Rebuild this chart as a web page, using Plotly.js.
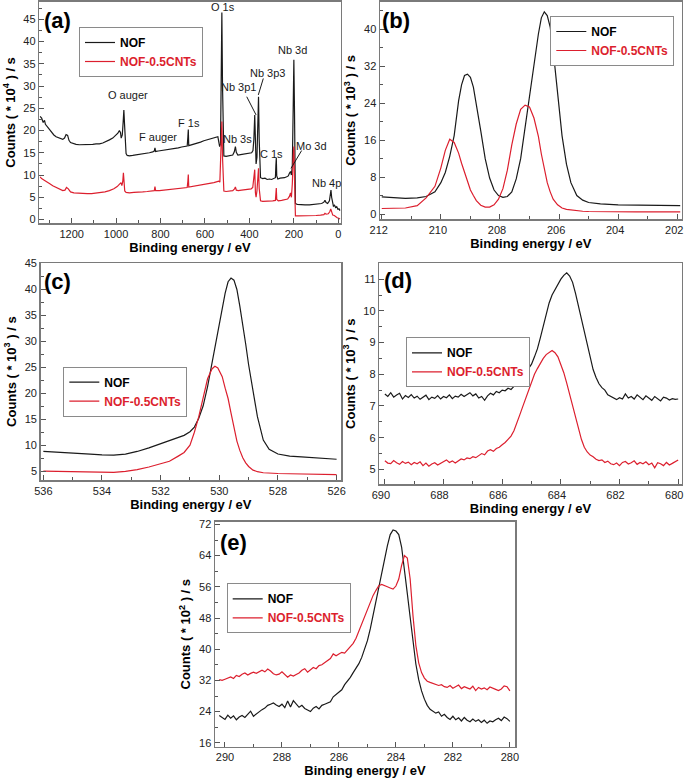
<!DOCTYPE html>
<html>
<head>
<meta charset="utf-8">
<script src="https://cdn.plot.ly/plotly-3.0.1.min.js"></script>
<style>html,body{margin:0;padding:0;background:#fff;}#chart{width:685px;height:778px;}</style>
</head>
<body>
<div id="chart"></div>
<script>
// ---------- Panel (a): survey spectra (counts x10^4 /s) ----------
const aNofX = [1342,1335,1328,1322,1318,1310,1300,1290,1280,1270,
  1260,1250,1240,1232,1225,1218,1212,1205,1195,1180,
  1165,1150,1135,1120,1105,1090,1075,1060,1045,1030,
  1015,1000,992,985,980,977,972,968,965,962,
  959,955,950,940,925,910,895,880,865,850,
  835,828,825,822,810,795,780,765,750,735,
  720,705,690,680,677,675,673,665,650,635,
  620,605,590,575,560,548,542,538,534,530,
  527,524,521,518,515,505,495,485,475,468,
  463,459,452,440,425,410,398,390,384,380,
  376,373,370,366,362,359,356,353,350,340,
  330,320,310,300,290,283,281,279,277,272,
  262,252,242,232,225,220,215,211,207,203,
  200,197,195,193,185,170,150,130,110,90,
  75,65,60,55,48,40,36,33,30,27,
  22,17,12,7,2,-3,-8];
const aNofY = [23.2,22.8,21.8,22.3,21.4,20.9,20.2,19.6,19.0,18.6,
  18.4,18.2,18.0,18.3,19.1,18.9,17.8,17.3,17.1,16.9,
  16.8,16.8,16.9,16.8,16.9,17.0,17.0,17.2,17.5,17.9,
  18.3,18.9,19.4,20.0,19.5,18.3,19.0,22.0,24.6,21.5,
  17.0,14.8,14.4,14.3,14.4,14.5,14.6,14.8,14.9,15.0,
  15.2,15.4,16.1,15.3,15.4,15.5,15.6,15.8,15.9,16.0,
  16.1,16.3,16.4,16.5,18.5,20.2,16.6,16.7,16.9,17.2,
  17.4,17.7,17.9,18.1,18.3,18.5,18.6,17.5,16.4,17.0,
  30.0,46.5,30.0,16.0,14.3,14.2,14.3,14.4,14.5,15.2,
  16.4,15.1,14.5,14.6,14.7,14.7,14.8,15.0,15.5,18.0,
  23.5,16.0,12.5,14.0,20.0,27.6,18.0,10.5,9.4,9.2,
  9.3,9.0,9.1,9.0,9.2,9.4,12.0,13.8,9.8,9.1,
  9.3,9.3,9.4,9.6,9.8,10.4,10.8,10.0,12.0,25.0,
  35.9,24.0,8.0,3.6,3.4,3.3,3.3,3.3,3.4,3.5,
  3.6,3.9,4.3,3.8,3.6,4.2,5.4,6.6,5.0,3.8,
  3.0,3.2,2.7,2.9,2.3,2.4,2.0];
const aCntX = [1342,1335,1325,1315,1300,1285,1270,1255,1240,1230,
  1223,1215,1205,1190,1170,1150,1130,1110,1090,1070,
  1050,1030,1010,995,985,978,974,970,967,964,
  961,955,940,920,900,880,860,840,828,825,
  822,805,785,765,745,725,705,690,680,677,
  675,673,660,640,620,600,580,560,545,538,
  533,528,524,521,518,515,505,490,475,467,
  463,459,450,435,420,405,392,385,380,376,
  373,370,366,362,359,356,353,350,340,325,
  310,295,283,281,279,277,270,255,240,228,
  220,215,211,207,203,200,197,195,193,180,
  160,140,120,100,80,65,60,55,45,38,
  34,30,25,18,12,5,-2,-8];
const aCntY = [9.6,9.2,8.9,8.5,8.1,7.6,7.2,6.8,6.5,6.6,
  7.2,6.9,6.2,6.0,5.9,5.8,5.8,5.8,5.9,6.0,
  6.2,6.5,6.9,7.4,8.0,8.3,7.6,8.5,10.5,8.8,
  6.4,6.1,6.0,6.1,6.1,6.2,6.3,6.4,6.5,7.4,
  6.5,6.5,6.6,6.7,6.8,6.9,7.0,7.1,7.2,8.6,
  10.1,7.3,7.4,7.6,7.8,7.9,8.1,8.3,8.5,8.6,
  8.4,14.0,22.0,14.0,7.0,6.4,6.3,6.4,6.5,6.9,
  7.3,6.6,6.5,6.6,6.7,6.8,6.9,7.2,9.0,11.2,
  6.0,5.0,6.5,9.0,11.5,7.0,4.5,4.2,4.1,4.1,
  4.1,4.2,4.3,6.0,7.1,4.5,4.2,4.3,4.4,4.6,
  5.2,6.0,5.0,8.0,14.0,16.4,9.0,1.2,0.8,0.8,
  0.8,0.8,0.8,0.9,1.0,1.1,1.4,1.2,1.3,1.8,
  2.4,1.8,1.0,0.9,0.6,0.4,0.3,0.1];
const aPeakNames = ['O auger','F auger','F 1s','O 1s','Nb 3s','Nb 3p1','Nb 3p3','Nb 3d','C 1s','Mo 3d','Nb 4p'];
const aPeakTextX = [945,810,670,520,454,450,318,205,300,120,55];
const aPeakTextY = [28.0,18.6,21.75,47.8,18.0,29.7,33.0,38.1,14.7,16.5,8.3];

// ---------- Panel (b): Nb 3d (counts x10^3 /s) ----------
const bEnergy = [212.0,211.6,211.2,210.8,210.5,210.2,210.0,209.85,209.7,209.55,
  209.4,209.3,209.2,209.1,209.0,208.9,208.8,208.65,208.5,208.35,
  208.2,208.05,207.9,207.75,207.6,207.45,207.3,207.15,207.0,206.85,
  206.7,206.6,206.5,206.4,206.3,206.2,206.05,205.9,205.75,205.6,
  205.4,205.2,205.0,204.6,204.0,203.4,202.8,202.2,201.9];
const bNOF = [3.7,3.5,3.4,3.5,3.8,4.8,6.8,9.0,12.5,17.0,
  24.5,28.0,30.0,30.3,29.6,27.5,24.0,18.0,12.0,7.8,
  5.2,4.0,3.6,3.8,4.8,7.6,12.0,18.8,25.5,32.5,
  39.0,42.5,43.8,43.0,40.5,35.5,25.5,17.0,10.8,6.8,
  4.0,3.0,2.5,2.2,2.0,1.9,1.85,1.8,1.8];
const bCNT = [1.2,1.2,1.3,1.8,3.5,6.0,10.0,13.8,16.2,15.5,
  13.2,11.0,9.0,6.8,5.2,4.0,2.9,1.9,1.5,1.5,
  2.0,3.2,5.5,9.5,15.0,19.5,22.7,23.6,23.2,20.8,
  16.8,13.0,10.0,6.8,4.8,3.2,2.0,1.3,1.0,0.85,
  0.7,0.6,0.55,0.5,0.5,0.45,0.45,0.45,0.45];

// ---------- Panel (c): O 1s (counts x10^3 /s) ----------
const cEnergy = [536.0,535.6,535.2,534.8,534.4,534.0,533.6,533.2,532.8,532.4,
  532.0,531.7,531.4,531.2,531.0,530.85,530.7,530.55,530.4,530.25,
  530.15,530.05,529.9,529.8,529.7,529.6,529.5,529.4,529.3,529.2,
  529.1,529.0,528.85,528.7,528.5,528.3,528.0,527.6,527.2,526.8,
  526.4,526.0];
const cNOF = [8.8,8.7,8.55,8.4,8.3,8.15,8.1,8.3,8.8,9.5,
  10.3,10.8,11.4,11.9,12.6,13.5,15.2,17.6,21.3,25.8,
  28.6,31.5,35.8,39.3,41.5,42.2,41.8,40.0,36.8,33.5,
  29.5,25.5,20.5,15.5,11.0,9.2,8.3,7.9,7.75,7.6,
  7.5,7.3];
const cCNT = [5.0,4.95,4.9,4.85,4.75,4.7,4.75,4.95,5.3,5.8,
  6.4,6.9,7.9,8.6,10.0,12.5,15.5,19.4,22.8,24.7,
  25.2,24.9,23.2,21.0,19.0,16.2,13.3,10.8,9.0,7.6,
  6.6,5.9,5.2,4.9,4.7,4.6,4.55,4.5,4.45,4.45,
  4.4,4.35];

// ---------- Panel (d): F 1s (counts x10^3 /s) ----------
const dEnergy = [690.0,689.9,689.8,689.7,689.6,689.5,689.4,689.3,689.2,689.1,
  689.0,688.9,688.8,688.7,688.6,688.5,688.4,688.3,688.2,688.1,
  688.0,687.9,687.8,687.7,687.6,687.5,687.4,687.3,687.2,687.1,
  687.0,686.9,686.8,686.7,686.6,686.5,686.4,686.3,686.2,686.1,
  686.0,685.9,685.8,685.7,685.6,685.5,685.4,685.3,685.2,685.1,
  685.0,684.9,684.8,684.7,684.6,684.5,684.4,684.3,684.2,684.1,
  684.0,683.9,683.8,683.7,683.6,683.5,683.4,683.3,683.2,683.1,
  683.0,682.9,682.8,682.7,682.6,682.5,682.4,682.3,682.2,682.1,
  682.0,681.9,681.8,681.7,681.6,681.5,681.4,681.3,681.2,681.1,
  681.0,680.9,680.8,680.7,680.6,680.5,680.4,680.3,680.2,680.1,
  680.0];
const dNOF = [7.38,7.30,7.42,7.28,7.35,7.40,7.22,7.33,7.27,7.36,
  7.25,7.31,7.21,7.29,7.34,7.20,7.28,7.24,7.33,7.22,
  7.30,7.26,7.35,7.23,7.31,7.28,7.37,7.30,7.36,7.42,
  7.32,7.38,7.25,7.30,7.18,7.32,7.40,7.35,7.46,7.42,
  7.50,7.48,7.56,7.52,7.62,7.70,7.82,7.90,8.05,8.20,
  8.32,8.55,8.80,9.15,9.55,9.95,10.25,10.50,10.68,10.85,
  11.00,11.12,11.20,11.10,10.90,10.55,10.15,9.70,9.25,8.85,
  8.50,8.15,7.90,7.70,7.58,7.50,7.35,7.30,7.24,7.20,
  7.26,7.22,7.38,7.25,7.30,7.22,7.35,7.27,7.20,7.32,
  7.24,7.18,7.30,7.22,7.16,7.28,7.25,7.19,7.23,7.21,
  7.22];
const dCNT = [5.27,5.20,5.18,5.28,5.21,5.16,5.25,5.19,5.23,5.15,
  5.22,5.18,5.24,5.12,5.20,5.10,5.17,5.21,5.14,5.19,
  5.25,5.30,5.22,5.27,5.20,5.28,5.33,5.30,5.36,5.34,
  5.40,5.37,5.45,5.50,5.46,5.58,5.62,5.57,5.66,5.70,
  5.78,5.85,5.95,6.05,6.22,6.45,6.72,6.98,7.25,7.50,
  7.78,8.00,8.18,8.35,8.50,8.62,8.70,8.75,8.68,8.55,
  8.30,8.05,7.72,7.35,6.98,6.62,6.25,5.95,5.70,5.55,
  5.45,5.40,5.32,5.28,5.30,5.22,5.26,5.18,5.15,5.20,
  5.12,5.22,5.25,5.17,5.21,5.27,5.16,5.22,5.18,5.24,
  5.15,5.20,5.05,5.21,5.18,5.12,5.22,5.14,5.19,5.24,
  5.30];

// ---------- Panel (e): C 1s (counts x10^2 /s) ----------
const eEnergy = [290.2,290.1,290.0,289.9,289.8,289.7,289.6,289.5,289.4,289.3,
  289.2,289.1,289.0,288.9,288.8,288.7,288.6,288.5,288.4,288.3,
  288.2,288.1,288.0,287.9,287.8,287.7,287.6,287.5,287.4,287.3,
  287.2,287.1,287.0,286.9,286.8,286.7,286.6,286.5,286.4,286.3,
  286.2,286.1,286.0,285.9,285.8,285.7,285.6,285.5,285.4,285.3,
  285.2,285.1,285.0,284.9,284.8,284.7,284.6,284.5,284.4,284.3,
  284.2,284.1,284.0,283.9,283.8,283.7,283.6,283.5,283.4,283.3,
  283.2,283.1,283.0,282.9,282.8,282.7,282.6,282.5,282.4,282.3,
  282.2,282.1,282.0,281.9,281.8,281.7,281.6,281.5,281.4,281.3,
  281.2,281.1,281.0,280.9,280.8,280.7,280.6,280.5,280.4,280.3,
  280.2,280.1,280.0];
const eNOF = [23.0,22.4,22.0,23.1,22.3,22.9,21.9,22.6,23.0,22.5,
  23.2,24.1,22.8,23.4,24.0,24.5,24.9,25.6,25.9,26.2,
  25.7,25.3,25.9,25.0,26.7,25.2,26.8,25.9,25.1,25.6,
  24.8,24.4,24.0,24.9,25.3,24.7,25.6,25.9,26.3,26.5,
  27.8,28.4,28.9,29.6,30.9,31.8,32.8,34.0,35.0,36.3,
  37.9,39.8,42.2,45.2,48.8,52.0,55.2,58.9,62.8,66.5,
  69.4,70.6,70.3,69.4,66.2,60.8,54.3,48.2,41.5,36.2,
  32.2,29.3,27.2,25.6,24.6,24.1,23.6,23.9,22.8,23.3,
  22.5,22.0,22.8,21.9,22.4,21.6,22.5,21.8,21.4,22.1,
  21.5,21.9,21.2,21.8,21.0,21.6,21.4,21.9,22.3,21.7,
  22.6,22.2,21.5];
const eCNT = [32.2,32.0,32.3,32.6,32.9,32.5,33.3,33.0,33.6,33.9,
  33.4,33.8,34.1,33.8,34.3,34.6,34.2,34.9,34.4,33.7,
  33.4,33.6,34.2,33.5,32.8,33.4,33.1,33.5,33.9,34.6,
  35.0,34.1,34.6,35.3,35.0,35.8,36.0,36.6,37.0,37.6,
  38.8,38.3,38.8,39.2,39.0,39.9,40.6,41.5,42.8,44.6,
  46.5,48.3,50.3,52.2,53.8,55.1,56.3,56.6,56.2,56.0,
  55.7,55.4,56.2,58.0,61.5,64.0,63.4,58.0,48.5,41.0,
  36.5,34.0,32.6,31.8,31.5,31.2,31.0,30.7,30.9,30.4,
  30.2,30.7,30.0,30.3,30.8,29.9,30.4,30.1,29.8,30.5,
  29.4,30.2,29.8,30.1,29.6,30.3,29.9,29.7,29.4,29.8,
  30.6,30.4,29.3];

const seriesNames = ['NOF', 'NOF-0.5CNTs'];
const panelLetters = ['(a)', '(b)', '(c)', '(d)', '(e)'];
const yTitles = ['Counts ( * 10<sup>4</sup> ) / s', 'Counts ( * 10<sup>3</sup> ) / s',
  'Counts ( * 10<sup>3</sup> ) / s', 'Counts ( * 10<sup>3</sup> ) / s', 'Counts ( * 10<sup>2</sup> ) / s'];

// ---------- styling ----------
const FONT = 'Arial, "Liberation Sans", sans-serif';
const BLACK = '#1a1a1a';
const RED = '#dc1f2e';
const W = 685, H = 778;
const px2x = p => p / W;
const px2y = p => 1 - p / H;

// plot boxes in pixels [left, right, top, bottom]
const boxes = [
  [39.3, 340.7, 1.5, 223.3],
  [380.0, 681.7, 1.7, 219.0],
  [40.7, 341.0, 263.3, 480.0],
  [379.3, 681.7, 263.3, 484.0],
  [215.0, 515.0, 521.7, 746.7]
];
const xRanges = [[1345.5, -10.8], [212.06, 201.85], [536.09, 525.85], [690.19, 679.88], [290.35, 279.82]];
const yRanges = [[-0.85, 49.0], [-1.08, 46.0], [3.3, 45.05], [4.54, 11.5], [15.0, 72.7]];
const xDticks = [200, 2, 2, 2, 2];
const yDticks = [5, 8, 5, 1, 8];
const xLabelShift = [0, 3, 0, 4, 0];
const legendPos = [[79, 27, 'left'], [674.3, 16, 'right'], [63.3, 366.7, 'left'], [406, 337.3, 'left'], [226.7, 583.3, 'left']];
const letterPos = [[57, 20], [396, 20], [57, 282], [398, 280], [233, 542]];

function axisBase(dt) {
  return {
    dtick: dt, tick0: 0, ticks: 'inside', ticklen: 5, tickwidth: 1, tickcolor: '#555',
    minor: {dtick: dt / 2, ticks: 'inside', ticklen: 3, tickwidth: 1, tickcolor: '#555', showgrid: false},
    showline: true, mirror: true, linecolor: '#7a7a7a', linewidth: 1.5,
    showgrid: false, zeroline: false, ticklabeloverflow: 'allow',
    tickfont: {family: FONT, size: 11, color: '#222'}
  };
}
function xAxis(i) {
  const b = boxes[i];
  return Object.assign(axisBase(xDticks[i]), {
    domain: [px2x(b[0]), px2x(b[1])], range: xRanges[i], anchor: i === 0 ? 'y' : 'y' + (i + 1),
    ticklabelshift: xLabelShift[i],
    title: {text: 'Binding energy / eV', font: {family: FONT, size: 13, color: '#000', weight: 'bold'}, standoff: 2}
  });
}
function yAxis(i) {
  const b = boxes[i];
  return Object.assign(axisBase(yDticks[i]), {
    domain: [px2y(b[3]), px2y(b[2])], range: yRanges[i], anchor: i === 0 ? 'x' : 'x' + (i + 1),
    title: {text: yTitles[i], font: {family: FONT, size: 13, color: '#000', weight: 'bold'}, standoff: 5}
  });
}

const panelData = [
  [aNofX, aNofY, aCntX, aCntY],
  [bEnergy, bNOF, bEnergy, bCNT],
  [cEnergy, cNOF, cEnergy, cCNT],
  [dEnergy, dNOF, dEnergy, dCNT],
  [eEnergy, eNOF, eEnergy, eCNT]
];

const traces = [];
const layout = {
  width: W, height: H, margin: {l: 0, r: 0, t: 0, b: 0},
  paper_bgcolor: '#fff', plot_bgcolor: '#fff',
  font: {family: FONT, color: '#000'},
  showlegend: true,
  annotations: [], shapes: []
};

panelData.forEach((p, i) => {
  const sfx = i === 0 ? '' : String(i + 1);
  const lg = 'legend' + sfx;
  traces.push({x: p[0], y: p[1], xaxis: 'x' + sfx, yaxis: 'y' + sfx, type: 'scatter', mode: 'lines',
    line: {color: BLACK, width: 1.2}, name: seriesNames[0], legend: lg});
  traces.push({x: p[2], y: p[3], xaxis: 'x' + sfx, yaxis: 'y' + sfx, type: 'scatter', mode: 'lines',
    line: {color: RED, width: 1.2}, name: '<span style="color:' + RED + '">' + seriesNames[1] + '</span>', legend: lg});
  layout['xaxis' + sfx] = xAxis(i);
  layout['yaxis' + sfx] = yAxis(i);
  const lp = legendPos[i];
  layout[lg] = {
    x: px2x(lp[0]), y: px2y(lp[1]), xanchor: lp[2], yanchor: 'top',
    bgcolor: '#fff', bordercolor: '#8a8a8a', borderwidth: 1,
    font: {family: FONT, size: 12, color: '#000', weight: 'bold'},
    tracegroupgap: 0, itemwidth: 30
  };
  layout.annotations.push({
    text: '<b>' + panelLetters[i] + '</b>', xref: 'paper', yref: 'paper',
    x: px2x(letterPos[i][0]), y: px2y(letterPos[i][1]), xanchor: 'center', yanchor: 'middle',
    showarrow: false, font: {family: FONT, size: 22, color: '#000'}
  });
});

// peak labels in survey panel
aPeakNames.forEach((n, k) => {
  layout.annotations.push({
    text: n, xref: 'x', yref: 'y', x: aPeakTextX[k], y: aPeakTextY[k],
    xanchor: 'center', yanchor: 'middle', showarrow: false,
    font: {family: FONT, size: 11, color: '#1a1a1a'}
  });
});
// leader lines (Nb 3p1, Nb 3p3, Mo 3d)
const leaderX0 = [412, 337.5, 165];
const leaderY0 = [27.6, 31.7, 15.5];
const leaderX1 = [370, 360, 213];
const leaderY1 = [23.5, 28.0, 11.5];
leaderX0.forEach((v, k) => {
  layout.shapes.push({type: 'line', xref: 'x', yref: 'y', x0: v, y0: leaderY0[k], x1: leaderX1[k], y1: leaderY1[k],
    line: {color: '#1a1a1a', width: 1}});
});

Plotly.newPlot('chart', traces, layout, {displayModeBar: false, staticPlot: true});
</script>
</body>
</html>
